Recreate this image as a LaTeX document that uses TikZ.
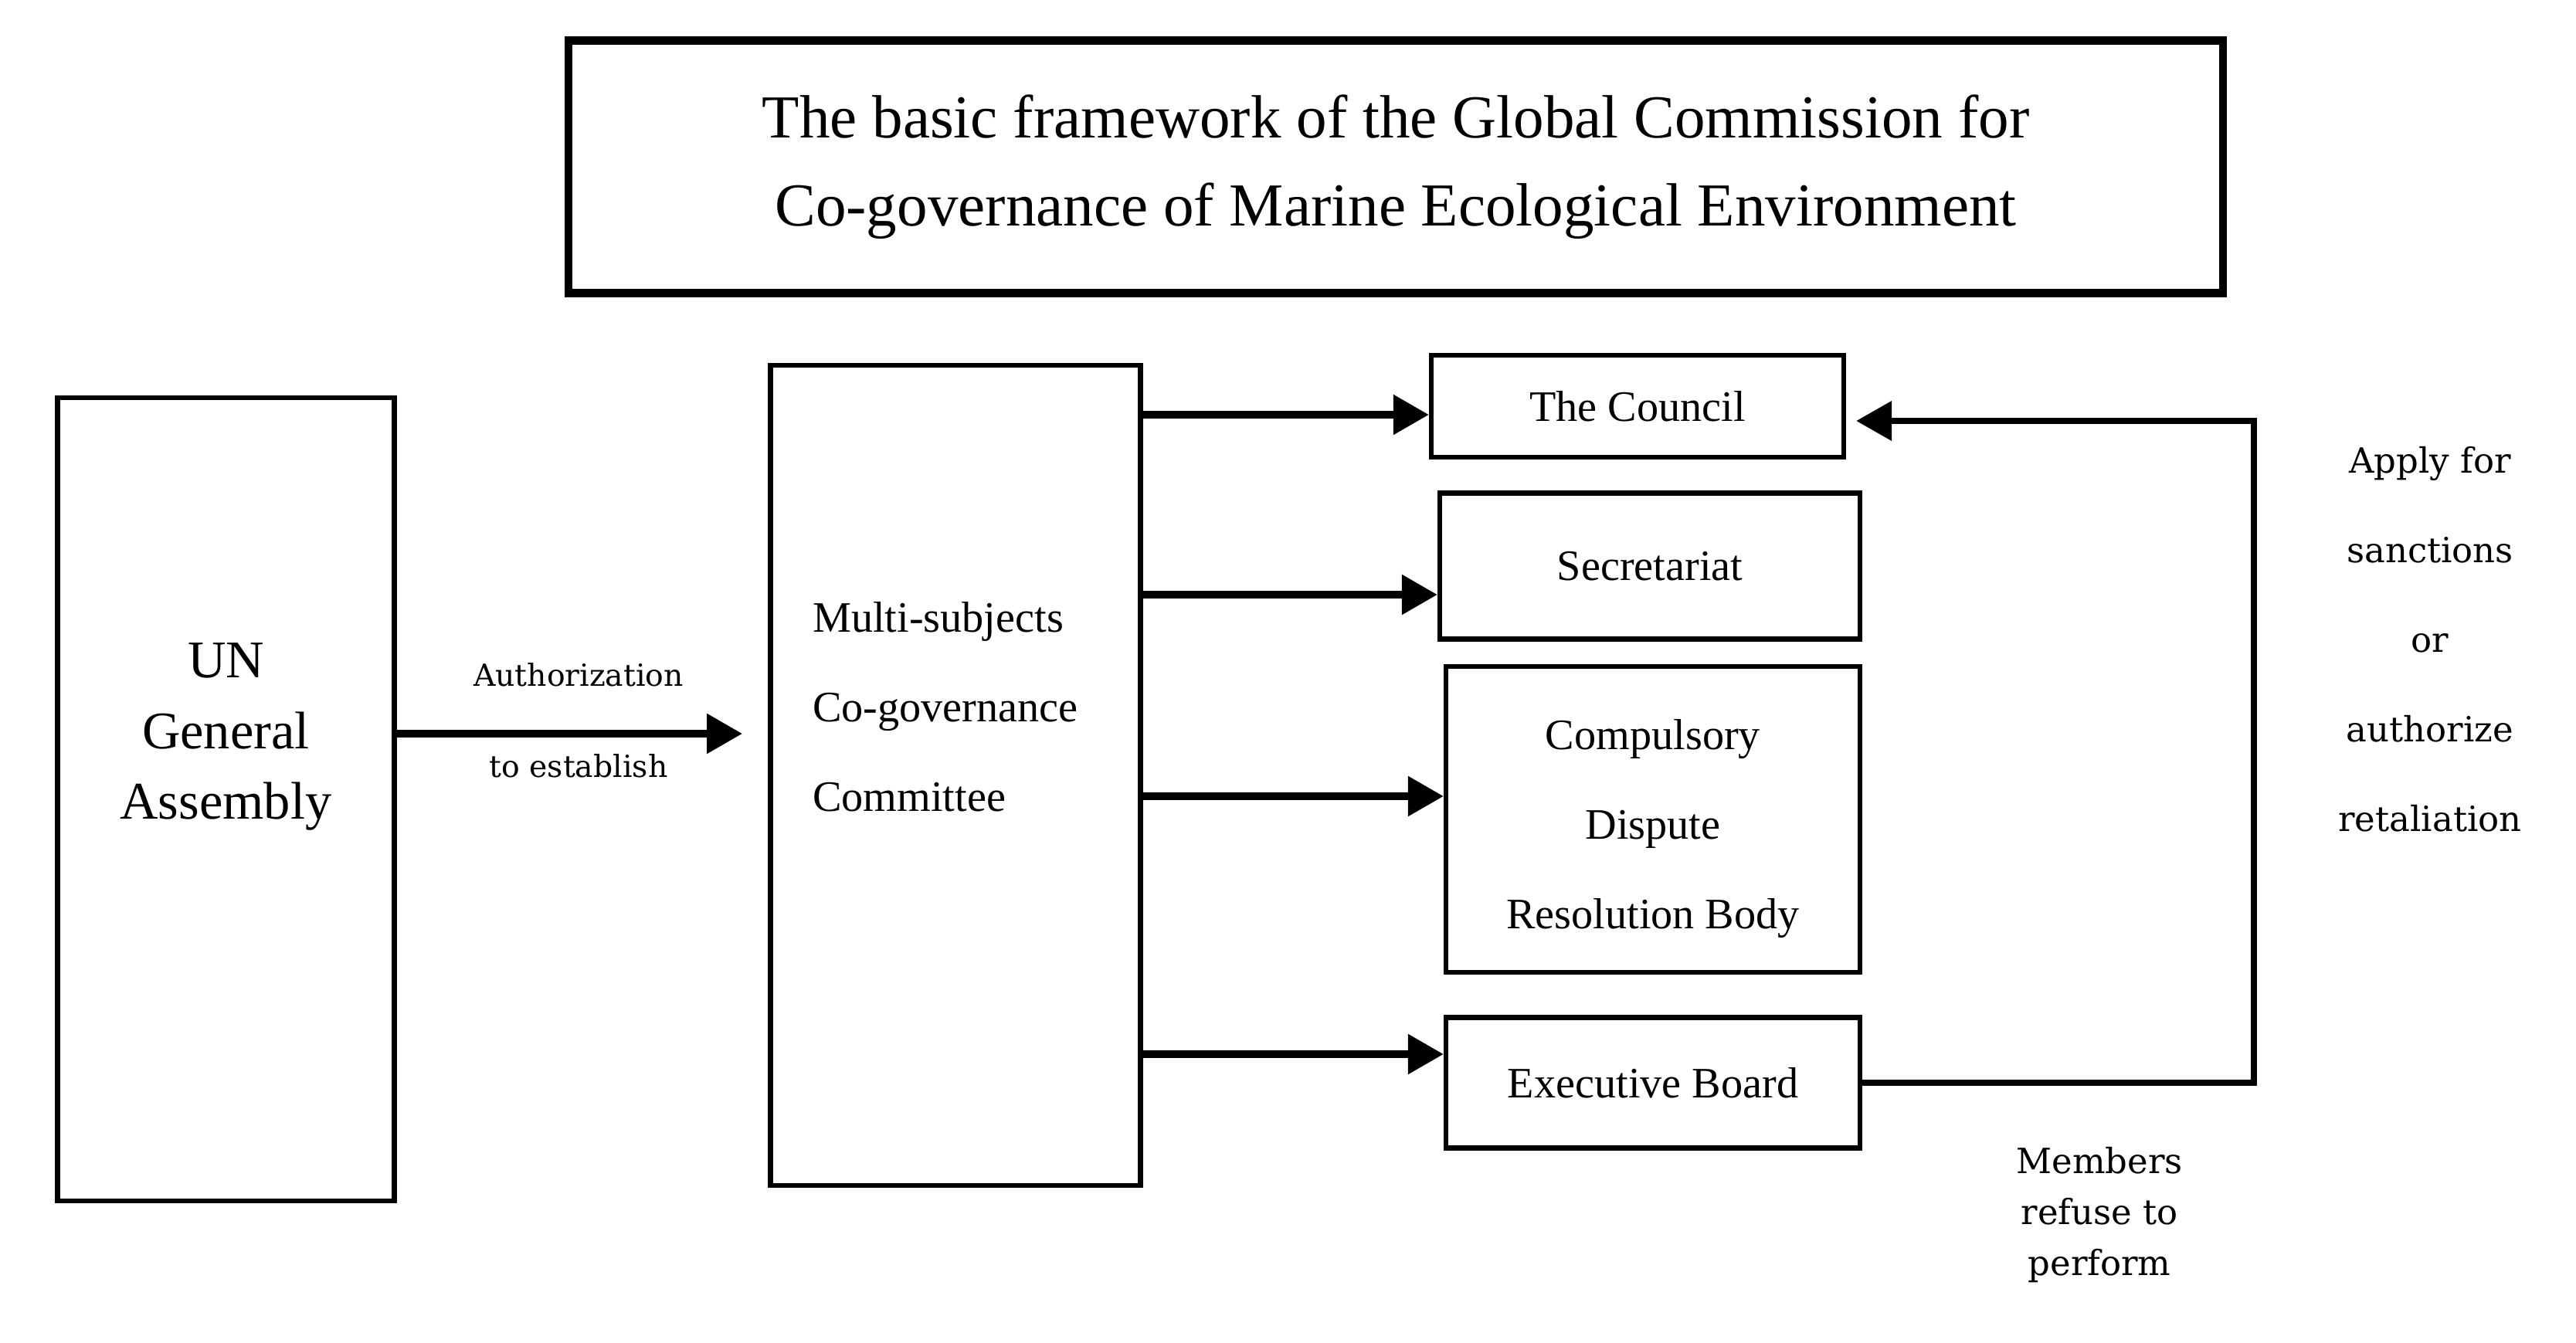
\documentclass[tikz,border=0pt]{standalone}
\usepackage{fontspec}
\setmainfont{Liberation Serif}
\newfontfamily\widefont{DejaVu Serif}
\usetikzlibrary{arrows.meta}

\begin{document}
\begin{tikzpicture}[
  box/.style={draw=black, line width=1.8pt, inner sep=0pt},
  boxtext/.style={font=\fontsize{16}{33}\selectfont, align=center},
  flow/.style={black, line width=2.6pt, -{Triangle[length=0.46cm,width=0.5cm]}},
  side/.style={font=\widefont\fontsize{12.8}{33}\selectfont, align=center, inner sep=0pt}
]
\useasboundingbox (0,0) rectangle (33.35,-17.38);

\node[box, line width=3pt, minimum width=21.42cm, minimum height=3.27cm,
  font=\fontsize{22.5}{32.6}\selectfont, align=center] (title) at (18.07,-2.16)
  {The basic framework of the Global Commission for\\Co-governance of Marine Ecological Environment};

\node[box, minimum width=4.36cm, minimum height=10.40cm] (un) at (2.925,-10.35) {};
\node[font=\fontsize{19.5}{26}\selectfont, align=center, inner sep=0pt] (untxt)
  at ([yshift=0.81cm]un.center) {UN\\General\\Assembly};

\node[box, minimum width=4.79cm, minimum height=10.62cm] (multi) at (12.37,-10.04) {};
\node[boxtext, align=left, anchor=west, inner sep=0pt] (multitxt)
  at ([xshift=0.57cm,yshift=0.89cm]multi.west) {Multi-subjects\\Co-governance\\Committee};

\node[box, boxtext, minimum width=5.34cm, minimum height=1.32cm] (council) at (21.20,-5.26) {The Council};
\node[box, boxtext, minimum width=5.44cm, minimum height=1.89cm] (secr) at (21.36,-7.33) {Secretariat};
\node[box, boxtext, minimum width=5.36cm, minimum height=3.96cm] (court) at (21.40,-10.61)
  {\rule{0pt}{18pt}Compulsory\\Dispute\\Resolution Body};
\node[box, boxtext, minimum width=5.36cm, minimum height=1.69cm] (exec) at (21.40,-14.02) {Executive Board};

\coordinate (authend) at (9.61,-9.50);
\draw[flow] ([yshift=0.85cm]un.east) -- (authend);
\node[side, font=\widefont\fontsize{11.2}{14}\selectfont] (auth) at (7.49,-8.74) {Authorization};
\node[side, font=\widefont\fontsize{11.2}{14}\selectfont] (estab) at (7.49,-9.92) {to establish};

\foreach \b/\dy in {council/-0.11, secr/-0.37, court/0.30, exec/0.37} {
  \coordinate (t\b) at ([yshift=\dy cm]\b.west);
  \draw[flow] (t\b -| multi.east) -- (t\b);
}

\coordinate (ret) at (29.18,-5.45);
\coordinate (back) at ([xshift=0.13cm,yshift=-0.19cm]council.east);
\draw[flow, line width=2.2pt] (exec.east) -| (ret) -- (back);

\node[side] (apply) at (31.46,-8.28) {Apply for\\sanctions\\or\\authorize\\retaliation};
\node[side, font=\widefont\fontsize{12.8}{18.7}\selectfont] (refuse) at (27.18,-15.73)
  {Members\\refuse to\\perform};
\end{tikzpicture}
\end{document}
